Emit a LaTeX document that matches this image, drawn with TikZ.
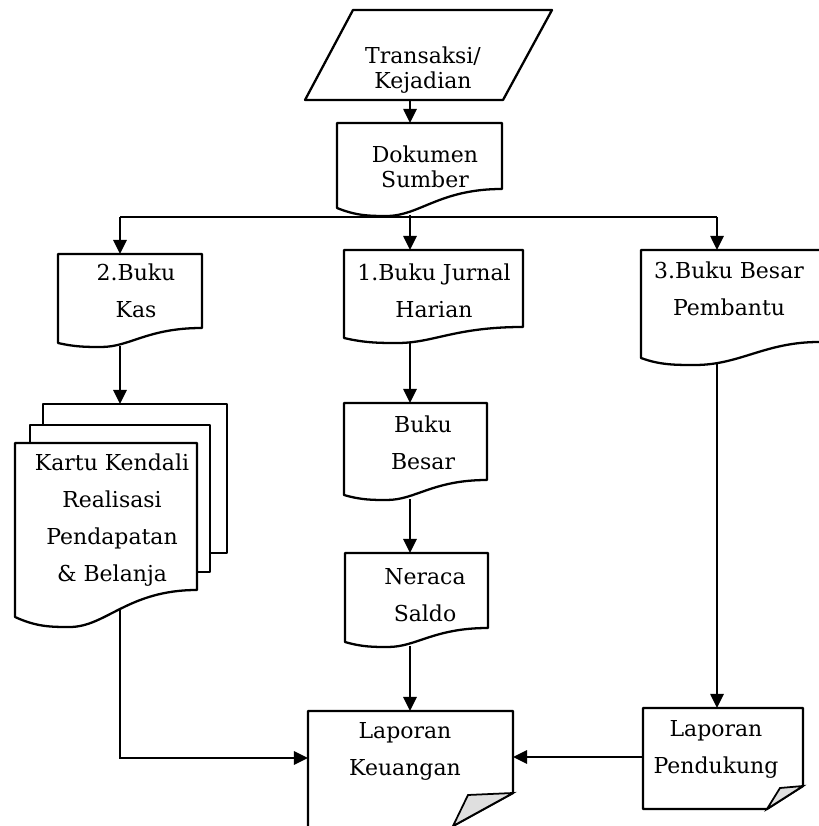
\documentclass[tikz,border=0pt]{standalone}
\usepackage{fontspec}
\setmainfont{DejaVu Serif}
\usetikzlibrary{arrows.meta}

\tikzset{
  garis/.style={line width=1.3pt, line join=round},
  panah/.style={line width=1.3pt, -{Triangle[length=8pt,width=7.5pt]}},
  teks/.style={align=center, inner sep=0pt, font=\fontsize{12.5}{21}\selectfont},
  teksrapat/.style={align=center, inner sep=0pt, font=\fontsize{12.5}{14.2}\selectfont},
  lipat/.style={line width=1pt, fill=gray!25},
}

% kotak dokumen: x kiri, x kanan, y atas, y kiri bawah, y lembah, y kanan bawah
\newcommand{\dokbox}[6]{%
  \pgfmathsetmacro{\dw}{#2-#1}
  \draw[garis, fill=white] (#2,#6) -- (#2,#3) -- (#1,#3) -- (#1,#4)
    .. controls (#1+0.12*\dw,#5) and (#1+0.2*\dw,#5) .. (#1+0.3*\dw,#5)
    .. controls (#1+0.5*\dw,#5) and (#1+0.62*\dw,#6) .. cycle;
}

\begin{document}
\begin{tikzpicture}
\useasboundingbox (0,0) rectangle (16.38,16.52);

% transaksi
\draw[garis] (7.06,16.32) -- (11.04,16.32) -- (10.06,14.52) -- (6.10,14.52) -- cycle;
\node[teksrapat] (transaksi) at (8.46,15.12) {Transaksi/\\Kejadian};

% dokumen sumber
\dokbox{6.74}{10.04}{14.06}{12.36}{12.20}{12.74}
\node[teksrapat] (dokumen) at (8.5,13.18) {Dokumen\\Sumber};

% kolom kiri
\dokbox{1.16}{4.04}{11.44}{9.66}{9.58}{9.96}
\node[teks] (kas) at (2.72,10.70) {2.Buku\\Kas};
\draw[garis, fill=white] (0.86,5.46) rectangle (4.54,8.44);
\draw[garis, fill=white] (0.60,5.08) rectangle (4.20,8.02);
\dokbox{0.30}{3.94}{7.66}{4.18}{3.98}{4.72}
\node[teks] (kartu) at (2.24,6.12) {Kartu Kendali\\Realisasi\\Pendapatan\\\& Belanja};

% kolom tengah
\dokbox{6.88}{10.46}{11.52}{9.76}{9.66}{9.98}
\node[teks] (jurnal) at (8.68,10.70) {1.Buku Jurnal\\Harian};
\dokbox{6.88}{9.74}{8.46}{6.62}{6.52}{6.92}
\node[teks] (besar) at (8.46,7.67) {Buku\\Besar};
\dokbox{6.90}{9.76}{5.46}{3.68}{3.58}{3.96}
\node[teks] (neraca) at (8.5,4.62) {Neraca\\Saldo};

% laporan keuangan
\draw[garis] (6.16,0) -- (6.16,2.30) -- (10.26,2.30) -- (10.26,0.66) -- (9.06,0);
\draw[lipat] (10.26,0.66) -- (9.36,0.62) -- (9.06,0) -- cycle;
\node[teks] (keuangan) at (8.1,1.50) {Laporan\\Keuangan};

% kolom kanan
\draw[garis] (16.38,11.52) -- (12.82,11.52) -- (12.82,9.36)
  .. controls (13.2,9.22) and (13.5,9.22) .. (13.9,9.22)
  .. controls (14.8,9.22) and (15.3,9.68) .. (16.38,9.68);
\node[teks] (pembantu) at (14.58,10.75) {3.Buku Besar\\Pembantu};
\draw[garis] (12.86,0.34) -- (12.86,2.36) -- (16.06,2.36) -- (16.06,0.80) -- (15.34,0.34) -- cycle;
\draw[lipat] (16.06,0.80) -- (15.60,0.76) -- (15.34,0.34) -- cycle;
\node[teks] (pendukung) at (14.32,1.54) {Laporan\\Pendukung};

% titik sambung
\coordinate (transaksiB) at (8.2,14.52);
\coordinate (dokumenA) at (8.2,14.06);
\coordinate (dokumenB) at (8.2,12.22);
\coordinate (bus) at (8.2,12.18);
\coordinate (kasA) at (2.4,11.44);
\coordinate (kasB) at (2.4,9.60);
\coordinate (kartuA) at (2.4,8.44);
\coordinate (kartuB) at (2.4,4.36);
\coordinate (jurnalA) at (8.2,11.52);
\coordinate (jurnalB) at (8.2,9.67);
\coordinate (besarA) at (8.2,8.46);
\coordinate (besarB) at (8.2,6.53);
\coordinate (neracaA) at (8.2,5.46);
\coordinate (neracaB) at (8.2,3.59);
\coordinate (keuanganA) at (8.2,2.30);
\coordinate (keuanganL) at (6.16,1.36);
\coordinate (keuanganR) at (10.26,1.38);
\coordinate (pembantuA) at (14.34,11.52);
\coordinate (pembantuB) at (14.34,9.26);
\coordinate (pendukungA) at (14.34,2.36);
\coordinate (pendukungL) at (12.86,1.38);

\draw[panah] (transaksiB) -- (dokumenA);
\draw[garis] (kasA |- bus) -- (pembantuA |- bus);
\draw[panah] (dokumenB) -- (jurnalA);
\draw[panah] (bus -| kasA) -- (kasA);
\draw[panah] (bus -| pembantuA) -- (pembantuA);
\draw[panah] (kasB) -- (kartuA);
\draw[panah] (jurnalB) -- (besarA);
\draw[panah] (besarB) -- (neracaA);
\draw[panah] (neracaB) -- (keuanganA);
\draw[panah] (kartuB) |- (keuanganL);
\draw[panah] (pembantuB) -- (pendukungA);
\draw[panah] (pendukungL) -- (keuanganR);
\end{tikzpicture}
\end{document}
